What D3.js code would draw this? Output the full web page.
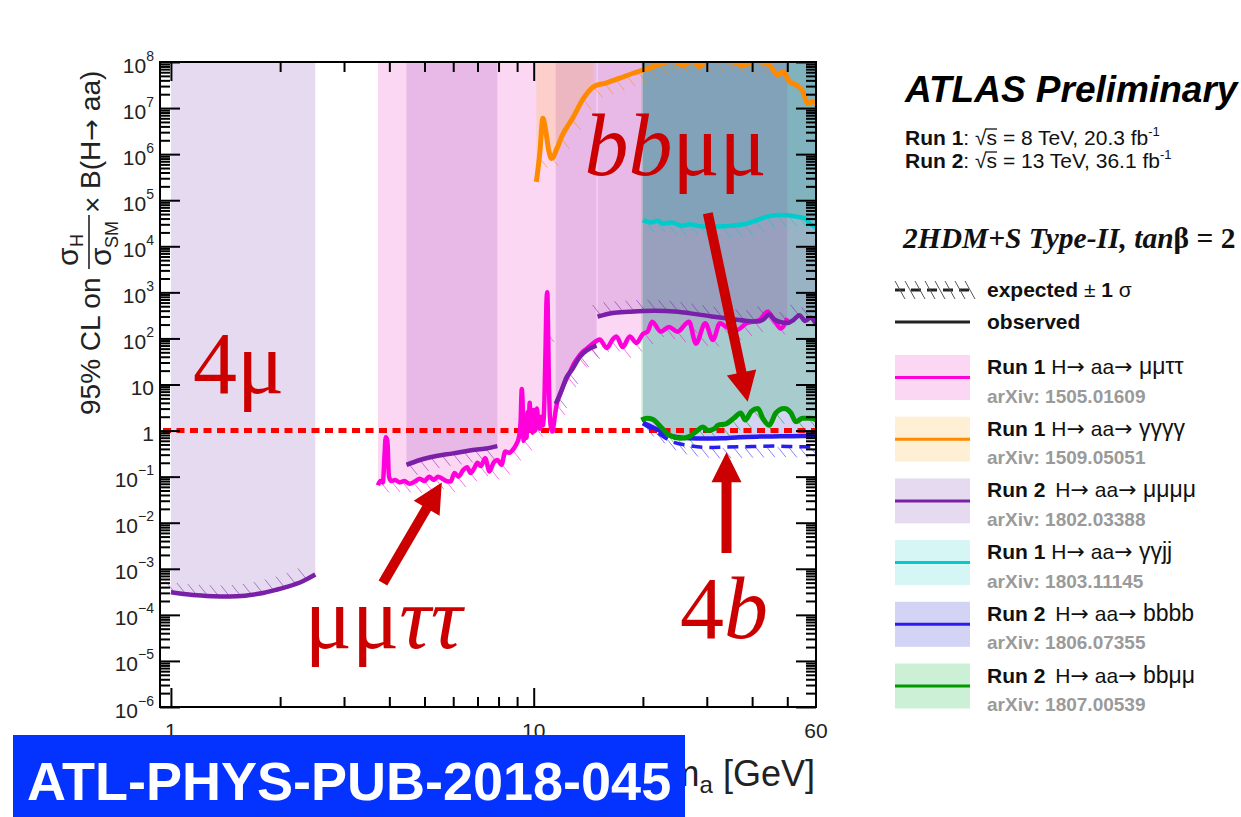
<!DOCTYPE html>
<html><head><meta charset="utf-8">
<script src="https://cdn.jsdelivr.net/npm/d3@7"></script>
<style>
body{margin:0;background:#fff;}
svg{display:block;}
text{font-family:"Liberation Sans",Arial,Helvetica,sans-serif;}
.arr{font-family:"DejaVu Sans",sans-serif;}
</style>
</head><body>
<script>
// ---------------- data ----------------
const xMajorTicks = [1, 10];
const xMinorTicks = [2, 3, 4, 5, 6, 7, 8, 9, 20, 30, 40, 50];
const xTickLabels = [1, 10, 60];
const yExponents = [-6, -5, -4, -3, -2, -1, 0, 1, 2, 3, 4, 5, 6, 7, 8];
const smLimit = 1;

// Run 1 H->aa->mumutautau (observed)
const mmtt = [[3.72,0.065],[3.78,0.08],[3.84,0.075],[3.88,0.3],[3.91,0.72],[3.95,0.6],[3.99,0.1],[4.05,0.08],[4.15,0.085],[4.27,0.075],[4.4,0.08],[4.55,0.07],[4.7,0.078],[4.85,0.09],[5.0,0.08],[5.15,0.1],[5.3,0.085],[5.45,0.1],[5.6,0.09],[5.75,0.08],[5.9,0.078],[6.05,0.12],[6.2,0.1],[6.4,0.14],[6.55,0.16],[6.7,0.12],[6.85,0.15],[7.0,0.2],[7.15,0.17],[7.35,0.25],[7.55,0.13],[7.75,0.2],[7.95,0.23],[8.15,0.18],[8.35,0.35],[8.55,0.33],[8.75,0.38],[8.95,0.5],[9.1,0.7],[9.2,1.5],[9.27,8],[9.32,4],[9.38,0.6],[9.45,0.8],[9.5,1.8],[9.55,0.7],[9.62,2.5],[9.68,1.0],[9.75,4],[9.8,1.2],[9.87,2.2],[9.93,0.9],[10.0,2.8],[10.1,1.0],[10.2,3],[10.3,1.5],[10.4,1.1],[10.5,2],[10.6,1.3],[10.7,4],[10.78,60],[10.85,700],[10.9,1000],[10.95,200],[11.0,20],[11.08,2],[11.15,1.2],[11.25,0.95],[11.35,1.3],[11.45,2.2],[11.6,4],[11.8,6],[12.0,8.5],[12.3,13],[12.6,19],[12.9,28],[13.2,37],[13.6,50],[14.0,60],[14.5,75],[15.2,95],[15.9,62],[16.5,95],[16.9,110],[17.6,65],[18.4,110],[19.2,80],[20.0,125],[20.6,140],[21.2,230],[22.4,140],[23.6,178],[24.9,140],[26.8,230],[28.0,77],[29.7,213],[31.2,93],[32.6,213],[34.0,178],[36.3,153],[38.6,213],[41.9,250],[44.1,378],[46.0,250],[48.0,165],[50.0,275]];

// Run 1 H->aa->4 gamma (observed)
const gggg = [[10.17,2.5e5],[10.4,1.1e6],[10.6,6e6],[10.8,3.1e6],[11.0,1.2e6],[11.2,8e5],[11.6,1.35e6],[12.0,2.6e6],[12.8,6e6],[13.7,1.6e7],[14.6,2.9e7],[15.8,3.5e7],[17.2,4.4e7],[18.8,5.7e7],[20.0,6.7e7],[21.3,7.9e7],[22.7,9.4e7],[24.2,1.05e8],[25.8,8.6e7],[27.5,1.05e8],[28.5,8e7],[29.9,1.05e8],[32,1.1e8],[34.7,1.05e8],[37.7,8.5e7],[41.1,1.05e8],[44.7,8.5e7],[47.1,5.2e7],[48.6,6.2e7],[50.8,3.7e7],[52.9,3.2e7],[55.2,2.3e7],[57.0,1.26e7],[58.8,1.4e7],[60,1.2e7]];
const ggggFillMaxMass = 15;

// Run 2 H->aa->4mu (observed), four mass windows
const mmmmA = [[1.0,3.1e-4],[1.15,2.7e-4],[1.3,2.55e-4],[1.45,2.5e-4],[1.6,2.6e-4],[1.76,2.9e-4],[1.95,3.5e-4],[2.1,4.1e-4],[2.3,5.3e-4],[2.5,7.5e-4]];
const mmmmB = [[4.46,0.18],[4.86,0.23],[5.39,0.28],[5.99,0.32],[6.66,0.37],[7.4,0.41],[7.94,0.46]];
const mmmmC = [[11.5,3.8],[11.9,7],[12.3,14],[12.8,22],[13.4,40],[14.0,55],[14.9,70]];
const mmmmD = [[15,296],[16.5,355],[18.3,378],[21.5,400],[25,380],[27,350],[31,300],[34,275],[38,245],[41,232],[43,260],[44.5,330],[46,260],[48,225],[50,215],[52,250],[54,320],[56,240],[58,280],[60,200]];

// Run 1 H->aa->gamma gamma jj (observed)
const ggjj = [[20,3.7e4],[21,3.3e4],[22,3.6e4],[22.7,3.1e4],[24,3.3e4],[25.5,2.8e4],[27,3.0e4],[29,2.7e4],[32,2.7e4],[35,2.8e4],[38,3.0e4],[41,3.6e4],[44,4.4e4],[47,4.8e4],[50,4.7e4],[53,4.4e4],[56,4.0e4],[58,3.0e4],[60,2.6e4]];

// Run 2 H->aa->bbbb (observed and expected)
const bbbbObs = [[20,1.47],[21.2,1.2],[22.2,1.0],[23.5,0.8],[25,0.72],[26.8,0.68],[30,0.67],[33,0.68],[37,0.72],[42,0.74],[48,0.75],[55,0.76],[60,0.78]];
const bbbbExp = [[20,1.4],[21.5,1.0],[23,0.7],[24.5,0.55],[26.5,0.48],[30,0.43],[34,0.44],[40,0.45],[46,0.46],[52,0.45],[60,0.44]];

// Run 2 H->aa->bbmumu (observed)
const bbmm = [[19.8,1.7],[20.5,1.85],[21.3,1.75],[22.2,1.3],[23.6,0.8],[25.4,0.68],[26.8,0.74],[28.0,0.95],[29.3,1.2],[30.2,1.0],[31.5,1.1],[32.2,1.3],[33.9,1.4],[35.6,1.85],[37.2,2.4],[38.3,1.7],[39.8,2.6],[41.5,3.0],[42.8,1.85],[44.6,1.3],[46.5,2.4],[49.0,3.0],[51.2,2.4],[52.8,1.55],[55.1,1.85],[58.1,1.85],[60,1.7]];

// legend
const legendRuns = ["Run 1", "Run 1", "Run 2", "Run 1", "Run 2", "Run 2"];
const legendFinalStates = ["\u03bc\u03bc\u03c4\u03c4", "\u03b3\u03b3\u03b3\u03b3", "\u03bc\u03bc\u03bc\u03bc", "\u03b3\u03b3jj", "bbbb", "bb\u03bc\u03bc"];
const legendArxiv = ["arXiv: 1505.01609", "arXiv: 1509.05051", "arXiv: 1802.03388", "arXiv: 1803.11145", "arXiv: 1806.07355", "arXiv: 1807.00539"];
const legendKeys = ["mmtt", "gggg", "mmmm", "ggjj", "bbbb", "bbmm"];

// annotations (text start as [mass, value]) and arrows ([tail], [tip])
const annoLabels = [
  {parts:[["4",false],["\u03bc",false]], at:[1.15, 6.5]},
  {parts:[["\u03bc\u03bc",false],["\u03c4\u03c4",true]], at:[2.34, 1.9e-5]},
  {parts:[["bb",true],["\u03bc\u03bc",false]], at:[13.8, 3.5e5]},
  {parts:[["4",false],["b",true]], at:[25.3, 3.1e-5]}
];
const annoArrows = [
  [[3.84, 4.9e-4],[5.58, 0.075]],
  [[30.2, 5.2e4],[38.9, 4.2]],
  [[34.0, 2.2e-3],[34.0, 0.34]]
];

// ---------------- styles ----------------
const lineColor = {mmtt:"#ff00dd", gggg:"#ff8a00", mmmm:"#7a1fa8", ggjj:"#00cccc", bbbb:"#2a1bf0", bbmm:"#009a00"};
const fillColor = {mmtt:"rgb(240,55,195)", gggg:"rgb(255,175,45)", mmmm:"rgb(130,70,180)", ggjj:"rgb(50,205,205)", bbbb:"rgb(35,35,205)", bbmm:"rgb(0,180,50)"};
const fillOpacity = 0.2;
const annoColor = "#cc0000";

// ---------------- chart ----------------
const W = 1241, H = 817;
const F = {l:160, r:816, t:62, b:707};
const svg = d3.select("body").append("svg").attr("width", W).attr("height", H);
const x = d3.scaleLog().domain([0.933, 60]).range([F.l, F.r]);
const y = d3.scaleLog().domain([1e-6, 1e8]).range([F.b, F.t]);

svg.append("defs").append("clipPath").attr("id","clip")
  .append("rect").attr("x",F.l).attr("y",F.t).attr("width",F.r-F.l).attr("height",F.b-F.t);
const plot = svg.append("g").attr("clip-path","url(#clip)");

const topY = y(y.domain()[1]);
const area = d3.area().x(d=>x(d[0])).y0(topY).y1(d=>y(d[1])).curve(d3.curveMonotoneX);
const line = d3.line().x(d=>x(d[0])).y(d=>y(d[1])).curve(d3.curveMonotoneX);

const fills = [
  [mmmmA,"mmmm"],[mmmmB,"mmmm"],[mmmmC,"mmmm"],[mmmmD,"mmmm"],
  [mmtt,"mmtt"],
  [gggg.filter(d=>d[0] <= ggggFillMaxMass),"gggg"],
  [ggjj,"ggjj"],[bbbbObs,"bbbb"],[bbmm,"bbmm"]
];
plot.selectAll("path.fill").data(fills).join("path").attr("class","fill")
  .attr("d", d=>area(d[0])).attr("fill", d=>fillColor[d[1]]).attr("fill-opacity", fillOpacity).attr("stroke","none");

// hatched fringe for the expected +-1 sigma
function hatchSegs(data, side){
  const pts = data.map(d=>[x(d[0]), y(d[1])]);
  const out = [];
  for(let px = pts[0][0] + 3; px <= pts[pts.length-1][0]; px += 11){
    let i = 0; while(i < pts.length-2 && pts[i+1][0] < px) i++;
    const [x0,y0] = pts[i], [x1,y1] = pts[i+1];
    const t = x1 === x0 ? 0 : (px-x0)/(x1-x0);
    const py = y0 + t*(y1-y0);
    if(side > 0) out.push([px, py+1, px+8, py+11]); else out.push([px-8, py-11, px, py-1]);
  }
  return out;
}
const hatches = [
  [mmmmA,"mmmm",-1],[mmmmB,"mmmm",1],[mmmmC,"mmmm",1],[mmmmD,"mmmm",-1],
  [mmtt,"mmtt",1],[gggg,"gggg",1],[ggjj,"ggjj",1],[bbbbExp,"bbbb",1],[bbmm,"bbmm",1]
];
hatches.forEach(([data,key,side])=>{
  plot.append("g").selectAll("line").data(hatchSegs(data,side)).join("line")
    .attr("x1",d=>d[0]).attr("y1",d=>d[1]).attr("x2",d=>d[2]).attr("y2",d=>d[3])
    .attr("stroke", lineColor[key]).attr("stroke-width",1).attr("stroke-opacity",0.55);
});

// SM reference line at 1
plot.append("line").attr("x1", x(x.domain()[0])+3).attr("x2", x(x.domain()[1]))
  .attr("y1", y(smLimit)).attr("y2", y(smLimit))
  .attr("stroke","#ff0000").attr("stroke-width",5).attr("stroke-dasharray","8,5.5");

// curves
const curves = [
  [gggg,"gggg",5,null],[ggjj,"ggjj",4.5,null],
  [bbbbExp,"bbbb",3.5,"11,7"],[bbbbObs,"bbbb",4.5,null],
  [mmtt,"mmtt",4.5,null],
  [mmmmA,"mmmm",4.5,null],[mmmmB,"mmmm",4.5,null],[mmmmC,"mmmm",4.5,null],[mmmmD,"mmmm",4.5,null],
  [bbmm,"bbmm",5,null]
];
plot.selectAll("path.curve").data(curves).join("path").attr("class","curve")
  .attr("d", d=>line(d[0])).attr("fill","none").attr("stroke", d=>lineColor[d[1]])
  .attr("stroke-width", d=>d[2]).attr("stroke-dasharray", d=>d[3]).attr("stroke-linejoin","round");

// frame and ticks
svg.append("rect").attr("x",F.l).attr("y",F.t).attr("width",F.r-F.l).attr("height",F.b-F.t)
  .attr("fill","none").attr("stroke","#000").attr("stroke-width",2);
const yMinor = [];
yExponents.slice(0,-1).forEach(e=>{ for(let k=2;k<=9;k++) yMinor.push(k*Math.pow(10,e)); });
const yMajor = yExponents.map(e=>Math.pow(10,e));
function styleAxis(g){ g.select(".domain").remove(); g.selectAll(".tick line").attr("stroke","#000").attr("stroke-width",2); g.selectAll(".tick text").remove(); }
svg.append("g").attr("transform",`translate(0,${F.b})`).call(d3.axisBottom(x).tickValues(xMajorTicks).tickSize(-19)).call(styleAxis);
svg.append("g").attr("transform",`translate(0,${F.b})`).call(d3.axisBottom(x).tickValues(xMinorTicks).tickSize(-10)).call(styleAxis);
svg.append("g").attr("transform",`translate(0,${F.t})`).call(d3.axisTop(x).tickValues(xMajorTicks).tickSize(-19)).call(styleAxis);
svg.append("g").attr("transform",`translate(0,${F.t})`).call(d3.axisTop(x).tickValues(xMinorTicks).tickSize(-10)).call(styleAxis);
svg.append("g").attr("transform",`translate(${F.l},0)`).call(d3.axisLeft(y).tickValues(yMajor).tickSize(-20)).call(styleAxis);
svg.append("g").attr("transform",`translate(${F.l},0)`).call(d3.axisLeft(y).tickValues(yMinor).tickSize(-10)).call(styleAxis);
svg.append("g").attr("transform",`translate(${F.r},0)`).call(d3.axisRight(y).tickValues(yMajor).tickSize(-20)).call(styleAxis);
svg.append("g").attr("transform",`translate(${F.r},0)`).call(d3.axisRight(y).tickValues(yMinor).tickSize(-10)).call(styleAxis);

// y tick labels
yExponents.forEach(e=>{
  const t = svg.append("text").attr("x",154).attr("y", y(Math.pow(10,e))+10.5)
    .attr("text-anchor","end").attr("font-size",21).attr("fill","#222");
  if(e === 0){ t.text("1"); }
  else if(e === 1){ t.text("10"); }
  else {
    t.append("tspan").text("10");
    t.append("tspan").attr("dy",-12).attr("font-size",14).text(e<0 ? "\u2212"+(-e) : String(e));
  }
});
// x tick labels
svg.selectAll("text.xl").data(xTickLabels).join("text").attr("class","xl")
  .attr("x", d=>x(d)).attr("y",738).attr("text-anchor","middle").attr("font-size",21).attr("fill","#222").text(d=>d);

// x title
const xt = svg.append("text").attr("x",815).attr("y",786).attr("text-anchor","end").attr("font-size",36).attr("fill","#222");
xt.append("tspan").text("m");
xt.append("tspan").attr("font-size",24).attr("dy",7).text("a");
xt.append("tspan").attr("dy",-7).text(" [GeV]");

// y title (rotated)
const yt = svg.append("g").attr("transform","translate(100,415) rotate(-90)").attr("fill","#222");
yt.append("text").attr("x",0).attr("y",0).attr("font-size",28).text("95% CL on");
yt.append("text").attr("x",149).attr("y",-22).attr("font-size",30).text("\u03c3");
yt.append("text").attr("x",168).attr("y",-17).attr("font-size",18).text("H");
yt.append("line").attr("x1",146).attr("x2",200).attr("y1",-11).attr("y2",-11).attr("stroke","#222").attr("stroke-width",1.6);
yt.append("text").attr("x",149).attr("y",11).attr("font-size",30).text("\u03c3");
yt.append("text").attr("x",167).attr("y",18).attr("font-size",18).text("SM");
yt.append("text").attr("x",202).attr("y",2).attr("font-size",28).text("\u00d7");
const ybr = yt.append("text").attr("x",226).attr("y",0).attr("font-size",28);
ybr.append("tspan").text("B(H");
ybr.append("tspan").attr("class","arr").attr("font-size",26).text("\u2192");
ybr.append("tspan").text(" aa)");

// annotations
annoLabels.forEach(a=>{
  const t = svg.append("text").attr("x", x(a.at[0])).attr("y", y(a.at[1]))
    .attr("font-size",88).attr("fill",annoColor).style("font-family",'"Liberation Serif","Times New Roman",serif');
  a.parts.forEach(([s,it])=> t.append("tspan").attr("font-style", it?"italic":"normal").text(s));
});
annoArrows.forEach(([tail,tip])=>{
  const x0=x(tail[0]), y0=y(tail[1]), x1=x(tip[0]), y1=y(tip[1]);
  const dx=x1-x0, dy=y1-y0, L=Math.hypot(dx,dy), ux=dx/L, uy=dy/L, nx=-uy, ny=ux;
  const hl=30, hw=15, sw=5;
  const bx=x1-ux*hl, by=y1-uy*hl;
  const pts=[[x0+nx*sw,y0+ny*sw],[bx+nx*sw,by+ny*sw],[bx+nx*hw,by+ny*hw],[x1,y1],[bx-nx*hw,by-ny*hw],[bx-nx*sw,by-ny*sw],[x0-nx*sw,y0-ny*sw]];
  svg.append("polygon").attr("points",pts.map(p=>p.join(",")).join(" ")).attr("fill",annoColor);
});

// ---------------- right-hand text and legend ----------------
svg.append("text").attr("x",905).attr("y",102).attr("font-size",37).attr("font-weight","bold").attr("font-style","italic").text("ATLAS Preliminary");
function runLine(yy, run, rest1){
  const t = svg.append("text").attr("x",905).attr("y",yy).attr("font-size",21).attr("fill","#111");
  t.append("tspan").attr("font-weight","bold").text(run);
  t.append("tspan").text(": \u221a");
  t.append("tspan").text("s");
  t.append("tspan").text(rest1);
  t.append("tspan").attr("font-size",13).attr("dy",-9).text("-1");
  const node = t.node();
  const idx = (run + ": \u221a").length;
  const p0 = node.getStartPositionOfChar(idx), p1 = node.getEndPositionOfChar(idx);
  svg.append("line").attr("x1",p0.x-1).attr("x2",p1.x).attr("y1",yy-16).attr("y2",yy-16).attr("stroke","#111").attr("stroke-width",1.3);
}
runLine(145, "Run 1", " = 8 TeV, 20.3 fb");
runLine(168, "Run 2", " = 13 TeV, 36.1 fb");
const th = svg.append("text").attr("x",903).attr("y",248).attr("font-size",29.5).attr("font-weight","bold").attr("fill","#111").style("font-family",'"Liberation Serif","Times New Roman",serif');
th.append("tspan").attr("font-style","italic").text("2HDM+S Type-II, tan");
th.append("tspan").text("\u03b2 = 2");

// expected / observed key
const keyX0 = 895, keyX1 = 970;
svg.append("line").attr("x1",keyX0).attr("x2",keyX1).attr("y1",290).attr("y2",290).attr("stroke","#222").attr("stroke-width",3).attr("stroke-dasharray","10,6");
svg.append("g").selectAll("line").data(d3.range(keyX0, keyX1-4, 10)).join("line")
  .attr("x1",d=>d).attr("y1",281).attr("x2",d=>d+10).attr("y2",299).attr("stroke","#555").attr("stroke-width",1);
svg.append("line").attr("x1",keyX0).attr("x2",keyX1).attr("y1",322).attr("y2",322).attr("stroke","#222").attr("stroke-width",3);
const te = svg.append("text").attr("x",987).attr("y",297).attr("font-size",21).attr("font-weight","bold").attr("fill","#111");
te.append("tspan").text("expected ");
te.append("tspan").attr("font-weight","normal").text("\u00b1");
te.append("tspan").text(" 1 ");
te.append("tspan").attr("font-weight","normal").text("\u03c3");
svg.append("text").attr("x",987).attr("y",329).attr("font-size",21).attr("font-weight","bold").attr("fill","#111").text("observed");

legendKeys.forEach((k,i)=>{
  const top = 355 + i*61.7;
  svg.append("rect").attr("x",keyX0).attr("y",top).attr("width",keyX1-keyX0).attr("height",45)
    .attr("fill",fillColor[k]).attr("fill-opacity",fillOpacity);
  svg.append("line").attr("x1",keyX0).attr("x2",keyX1).attr("y1",top+22.5).attr("y2",top+22.5)
    .attr("stroke",lineColor[k]).attr("stroke-width",3);
  const t = svg.append("text").attr("x",987).attr("y",top+19).attr("font-size",21).attr("fill","#111");
  t.append("tspan").attr("font-weight","bold").text(legendRuns[i]);
  t.append("tspan").attr("dx", legendRuns[i]==="Run 2" ? 10 : 6).text("H");
  t.append("tspan").attr("class","arr").attr("font-size",22).text("\u2192");
  t.append("tspan").text(" aa");
  t.append("tspan").attr("class","arr").attr("font-size",22).text("\u2192");
  t.append("tspan").attr("font-size",23).text(" " + legendFinalStates[i]);
  svg.append("text").attr("x",987).attr("y",top+47.5).attr("font-size",19).attr("font-weight","bold").attr("fill","#9a9a9a").text(legendArxiv[i]);
});

// ---------------- note box ----------------
svg.append("rect").attr("x",13).attr("y",735).attr("width",672).attr("height",82).attr("fill","#0433ff");
svg.append("text").attr("x",27).attr("y",800).attr("font-size",54).attr("font-weight","bold").attr("fill","#fff").text("ATL-PHYS-PUB-2018-045");
</script>
</body></html>
